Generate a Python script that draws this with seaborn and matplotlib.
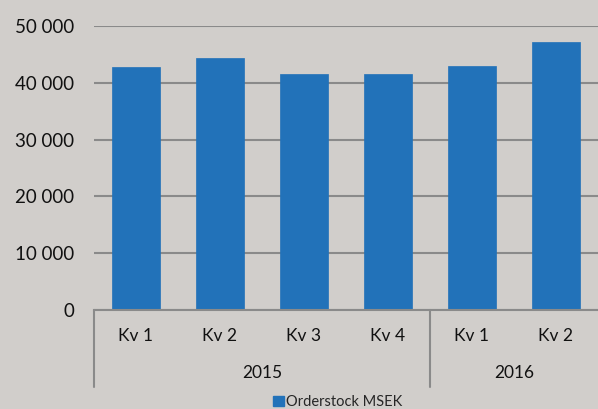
import matplotlib
matplotlib.use("Agg")
import matplotlib.pyplot as plt
import matplotlib.transforms as mtransforms
from matplotlib.patches import Patch
from matplotlib.ticker import FuncFormatter
import seaborn as sns
import pandas as pd

# data
years = ['2015', '2015', '2015', '2015', '2016', '2016']
quarters = ['Kv 1', 'Kv 2', 'Kv 3', 'Kv 4', 'Kv 1', 'Kv 2']
orderstock = [42800, 44400, 41500, 41500, 42950, 47200]
series_name = 'Orderstock MSEK'

df = pd.DataFrame({'year': years, 'quarter': quarters, 'value': orderstock})
df['key'] = df['year'] + ' ' + df['quarter']

bg = '#d1cecb'
bar_color = '#2272b9'
grid_color = '#8a8a8a'

sns.set_theme(style='white')
plt.rcParams['font.family'] = ['Lato', 'DejaVu Sans']

fig = plt.figure(figsize=(5.98, 4.09), dpi=100, facecolor=bg)
W, H = 598, 409
ax = fig.add_axes([94 / W, (H - 310) / H, (598 - 94) / W, (310 - 26) / H])
ax.set_facecolor(bg)

sns.barplot(data=df, x='key', y='value', color=bar_color, width=0.57,
            saturation=1, edgecolor=bar_color, linewidth=0.5, ax=ax, zorder=3)

ax.set_ylim(0, 50000)
ax.set_xlim(-0.5, len(df) - 0.5)
ax.set_yticks(range(0, 50001, 10000))
ax.yaxis.set_major_formatter(FuncFormatter(lambda v, p: f'{int(v):,}'.replace(',', ' ')))
ax.grid(axis='y', color=grid_color, linewidth=1.5, zorder=0)
ax.set_axisbelow(True)

for s in ['top', 'right', 'left']:
    ax.spines[s].set_visible(False)
ax.spines['bottom'].set_color(grid_color)
ax.spines['bottom'].set_linewidth(1.5)
ax.spines['bottom'].set_zorder(4)

ax.set_xticks(range(len(df)))
ax.set_xticklabels(df['quarter'])
ax.tick_params(axis='x', length=0, pad=13, labelsize=12.5, labelcolor='#111111')
ax.tick_params(axis='y', length=0, pad=14, labelsize=13.5, labelcolor='#111111')
ax.set_xlabel('')
ax.set_ylabel('')

# category grouping
trans = mtransforms.blended_transform_factory(ax.transData, ax.transAxes)
bottom = -(387 - 310) / 284
for xpos in [-0.5, 3.5]:
    ax.plot([xpos, xpos], [0, bottom], color=grid_color, linewidth=1.5,
            transform=trans, clip_on=False)
for yr in df['year'].unique():
    idx = df.index[df['year'] == yr]
    ax.text((idx.min() + idx.max()) / 2, -(373 - 310) / 284, yr, transform=trans,
            ha='center', va='center', fontsize=12.5, color='#111111')

fig.legend(handles=[Patch(color=bar_color, label=series_name)],
           loc='center', bbox_to_anchor=(338 / W, 1 - 402 / H), frameon=False,
           fontsize=10.5, handlelength=0.7, handleheight=0.7, handletextpad=0.2)

fig.savefig('out.png', dpi=100, facecolor=bg)
